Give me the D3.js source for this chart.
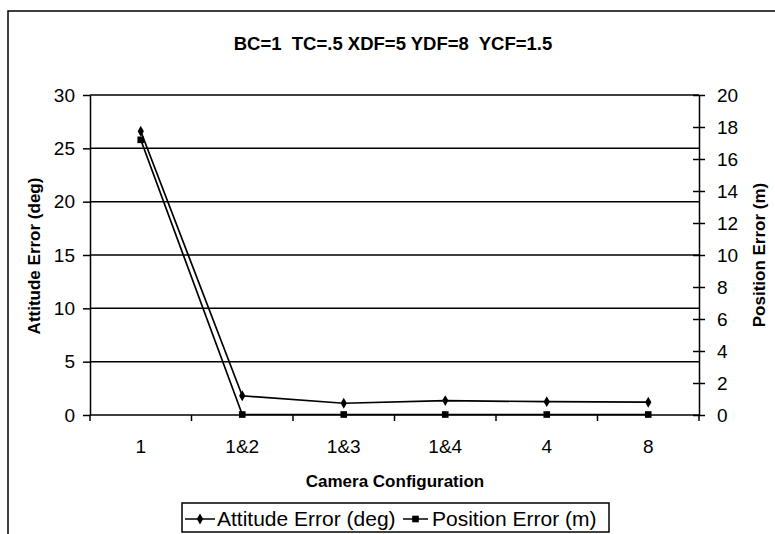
<!DOCTYPE html>
<html>
<head>
<meta charset="utf-8">
<script src="https://d3js.org/d3.v7.min.js"></script>
<style>
  body { margin: 0; background: #fff; }
  svg { font-family: "Liberation Sans", Arial, sans-serif; }
  .grid line { stroke: #000; stroke-width: 1.5px; }
  .axis path, .axis line { stroke: #000; stroke-width: 1.5px; }
  .axis text { font-size: 19px; fill: #000; }
  .line { fill: none; stroke: #000; stroke-width: 1.7px; }
</style>
</head>
<body>
<svg id="chart" width="775" height="534"></svg>
<script>
// data
var categories = ["1", "1&2", "1&3", "1&4", "4", "8"];
var attitudeErr = [26.6, 1.8, 1.1, 1.35, 1.25, 1.2];   // deg, left axis
var positionErr = [17.2, 0.03, 0.03, 0.03, 0.03, 0.03]; // m, right axis
var leftTicks = [0, 5, 10, 15, 20, 25, 30];
var rightTicks = [0, 2, 4, 6, 8, 10, 12, 14, 16, 18, 20];
var title = "BC=1  TC=.5 XDF=5 YDF=8  YCF=1.5";

var svg = d3.select("#chart");
var m = {left: 90, right: 699, top: 95, bottom: 415};

// outer chart border (only left and top visible in the crop)
svg.append("rect")
  .attr("x", 8).attr("y", 11)
  .attr("width", 800).attr("height", 600)
  .attr("fill", "none").attr("stroke", "#000").attr("stroke-width", 1.5);

var x = d3.scaleBand().domain(categories).range([m.left, m.right]);
var yL = d3.scaleLinear().domain([0, 30]).range([m.bottom, m.top]);
var yR = d3.scaleLinear().domain([0, 20]).range([m.bottom, m.top]);

// gridlines
svg.append("g").attr("class", "grid")
  .selectAll("line").data(leftTicks.slice(1)).enter().append("line")
  .attr("x1", m.left).attr("x2", m.right)
  .attr("y1", function(d) { return yL(d); })
  .attr("y2", function(d) { return yL(d); });

// left axis
var gl = svg.append("g").attr("class", "axis")
  .attr("transform", "translate(" + m.left + ",0)")
  .call(d3.axisLeft(yL).tickValues(leftTicks).tickSize(7).tickSizeOuter(0).tickPadding(8));

// right axis, ticks cross the line
var gr = svg.append("g").attr("class", "axis")
  .attr("transform", "translate(" + m.right + ",0)")
  .call(d3.axisRight(yR).tickValues(rightTicks).tickSize(6).tickSizeOuter(0).tickPadding(12));
gr.selectAll(".tick line").attr("x1", -6);

// bottom axis, ticks between categories
var gb = svg.append("g").attr("class", "axis")
  .attr("transform", "translate(0," + m.bottom + ")")
  .call(d3.axisBottom(x).tickSize(0).tickPadding(25));
gb.select(".domain").attr("d", "M" + m.left + ",0H" + m.right);
gb.selectAll(".bound").data(d3.range(categories.length + 1)).enter().append("line")
  .attr("x1", function(i) { return m.left + i * x.step(); })
  .attr("x2", function(i) { return m.left + i * x.step(); })
  .attr("y1", 0).attr("y2", 6)
  .attr("stroke", "#000").attr("stroke-width", 1.5);

var cx = function(d, i) { return x(categories[i]) + x.bandwidth() / 2; };

// series
svg.append("path").datum(positionErr).attr("class", "line")
  .attr("d", d3.line().x(cx).y(function(d) { return yR(d); }));
svg.append("path").datum(attitudeErr).attr("class", "line")
  .attr("d", d3.line().x(cx).y(function(d) { return yL(d); }));

var diamond = d3.symbol().type(d3.symbolDiamond).size(34);
var square = d3.symbol().type(d3.symbolSquare).size(44);

svg.selectAll(".pm").data(positionErr).enter().append("path")
  .attr("d", square)
  .attr("transform", function(d, i) { return "translate(" + cx(d, i) + "," + yR(d) + ")"; });
svg.selectAll(".am").data(attitudeErr).enter().append("path")
  .attr("d", diamond)
  .attr("transform", function(d, i) { return "translate(" + cx(d, i) + "," + yL(d) + ")"; });

// titles
svg.append("text").attr("x", 393).attr("y", 50)
  .attr("text-anchor", "middle").attr("font-weight", "bold").attr("font-size", 18.5)
  .style("white-space", "pre").text(title);

svg.append("text").attr("transform", "translate(40,256)rotate(-90)")
  .attr("text-anchor", "middle").attr("font-weight", "bold").attr("font-size", 17)
  .text("Attitude Error (deg)");

svg.append("text").attr("transform", "translate(765,255)rotate(-90)")
  .attr("text-anchor", "middle").attr("font-weight", "bold").attr("font-size", 17)
  .text("Position Error (m)");

svg.append("text").attr("x", 395).attr("y", 487)
  .attr("text-anchor", "middle").attr("font-weight", "bold").attr("font-size", 17)
  .text("Camera Configuration");

// legend
var lg = svg.append("g");
lg.append("rect").attr("x", 182).attr("y", 503).attr("width", 427).attr("height", 29)
  .attr("fill", "#fff").attr("stroke", "#000").attr("stroke-width", 1.5);
var legendItems = [
  {label: "Attitude Error (deg)", sym: diamond, x0: 185, x1: 215, tx: 217},
  {label: "Position Error (m)", sym: square, x0: 403, x1: 428, tx: 432}
];
legendItems.forEach(function(it) {
  lg.append("line").attr("x1", it.x0).attr("x2", it.x1).attr("y1", 519).attr("y2", 519)
    .attr("stroke", "#000").attr("stroke-width", 1.5);
  lg.append("path").attr("d", it.sym)
    .attr("transform", "translate(" + ((it.x0 + it.x1) / 2) + ",519)");
  lg.append("text").attr("x", it.tx).attr("y", 526).attr("font-size", 21).text(it.label);
});
</script>
</body>
</html>
